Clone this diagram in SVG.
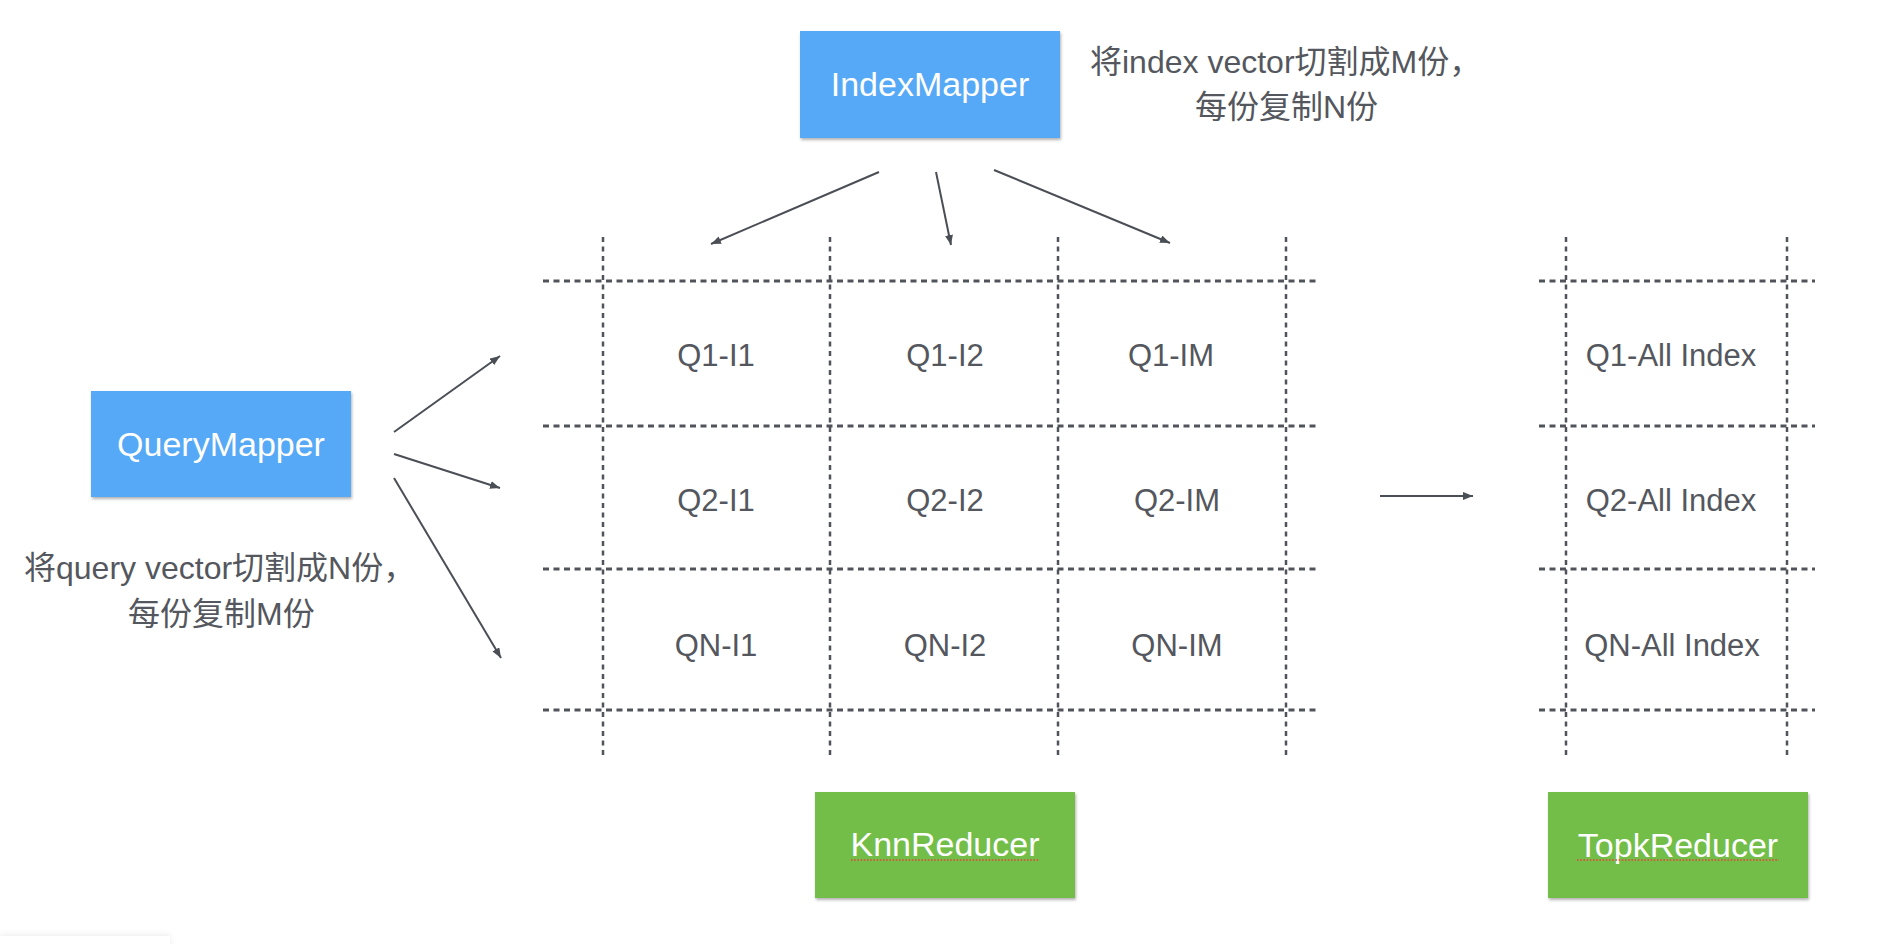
<svg xmlns="http://www.w3.org/2000/svg" width="1886" height="944" viewBox="0 0 1886 944">
<style>
.box-blue{fill:#57a9f6;}
.box-green{fill:#73be48;}
.box-text{font-family:"Liberation Sans","Noto Sans",sans-serif;font-size:34px;fill:#ffffff;text-anchor:middle;}
.cell{font-family:"Liberation Sans","Noto Sans",sans-serif;font-size:31px;fill:#54575d;text-anchor:middle;}
.note{font-family:"Liberation Sans","Noto Sans CJK SC",sans-serif;font-size:32px;fill:#54575d;}
.hgrid{stroke:#50545a;stroke-width:3;stroke-dasharray:6 4.5;fill:none;}
.vgrid{stroke:#50545a;stroke-width:2.5;stroke-dasharray:5 4.5;fill:none;}
.conn{stroke:#4a4e55;stroke-width:2;fill:none;marker-end:url(#arrow);}
.spell{stroke:#e8413a;stroke-width:1.6;stroke-dasharray:1.6 1.6;fill:none;}
</style>
<defs>
<filter id="shadow" x="-10%" y="-10%" width="125%" height="130%">
<feDropShadow dx="1" dy="2" stdDeviation="1.5" flood-color="#000" flood-opacity="0.3"/>
</filter>
<filter id="soft" x="-20%" y="-100%" width="140%" height="300%">
<feDropShadow dx="0" dy="-1" stdDeviation="3" flood-color="#000" flood-opacity="0.08"/>
</filter>
<marker id="arrow" viewBox="0 0 10 8" refX="10" refY="4" markerWidth="10" markerHeight="8" markerUnits="userSpaceOnUse" orient="auto">
<path d="M0,0 L10,4 L0,8 z" fill="#4a4e55"/>
</marker>
</defs>
<rect width="1886" height="944" fill="#ffffff"/>

<g id="grid-main">
<line class="hgrid" x1="543" y1="281" x2="1317" y2="281"/>
<line class="hgrid" x1="543" y1="426" x2="1317" y2="426"/>
<line class="hgrid" x1="543" y1="569" x2="1317" y2="569"/>
<line class="hgrid" x1="543" y1="710" x2="1317" y2="710"/>
<line class="vgrid" x1="603" y1="237" x2="603" y2="755"/>
<line class="vgrid" x1="830" y1="237" x2="830" y2="755"/>
<line class="vgrid" x1="1058" y1="237" x2="1058" y2="755"/>
<line class="vgrid" x1="1286" y1="237" x2="1286" y2="755"/>
</g>
<g id="grid-right">
<line class="hgrid" x1="1539" y1="281" x2="1815" y2="281"/>
<line class="hgrid" x1="1539" y1="426" x2="1815" y2="426"/>
<line class="hgrid" x1="1539" y1="569" x2="1815" y2="569"/>
<line class="hgrid" x1="1539" y1="710" x2="1815" y2="710"/>
<line class="vgrid" x1="1566" y1="237" x2="1566" y2="755"/>
<line class="vgrid" x1="1787" y1="237" x2="1787" y2="755"/>
</g>

<g id="cells">
<text class="cell" x="716" y="366">Q1-I1</text>
<text class="cell" x="945" y="366">Q1-I2</text>
<text class="cell" x="1171" y="366">Q1-IM</text>
<text class="cell" x="716" y="511">Q2-I1</text>
<text class="cell" x="945" y="511">Q2-I2</text>
<text class="cell" x="1177" y="511">Q2-IM</text>
<text class="cell" x="716" y="656">QN-I1</text>
<text class="cell" x="945" y="656">QN-I2</text>
<text class="cell" x="1177" y="656">QN-IM</text>
<text class="cell" x="1671" y="366">Q1-All Index</text>
<text class="cell" x="1671" y="511">Q2-All Index</text>
<text class="cell" x="1672" y="656">QN-All Index</text>
</g>

<g id="IndexMapper">
<rect class="box-blue" x="800" y="31" width="260" height="107" filter="url(#shadow)"/>
<text class="box-text" x="930" y="96">IndexMapper</text>
</g>
<g id="QueryMapper">
<rect class="box-blue" x="91" y="391" width="260" height="106" filter="url(#shadow)"/>
<text class="box-text" x="221" y="456">QueryMapper</text>
</g>
<g id="KnnReducer">
<rect class="box-green" x="815" y="792" width="260" height="106" filter="url(#shadow)"/>
<text class="box-text" x="945" y="856">KnnReducer</text>
<line class="spell" x1="851" y1="860" x2="1039" y2="860"/>
</g>
<g id="TopkReducer">
<rect class="box-green" x="1548" y="792" width="260" height="106" filter="url(#shadow)"/>
<text class="box-text" x="1678" y="857">TopkReducer</text>
<line class="spell" x1="1577" y1="860" x2="1779" y2="860"/>
</g>

<g id="notes">
<text class="note" x="1090" y="73">将index vector切割成M份，</text>
<text class="note" x="1195" y="118">每份复制N份</text>
<text class="note" x="24" y="579">将query vector切割成N份，</text>
<text class="note" x="128" y="625">每份复制M份</text>
</g>

<g id="connectors">
<line class="conn" x1="879" y1="172" x2="711" y2="244"/>
<line class="conn" x1="936" y1="172" x2="951" y2="245"/>
<line class="conn" x1="994" y1="170" x2="1170" y2="243"/>
<line class="conn" x1="394" y1="432" x2="500" y2="356"/>
<line class="conn" x1="394" y1="454" x2="500" y2="488"/>
<line class="conn" x1="394" y1="478" x2="501" y2="658"/>
<line class="conn" x1="1380" y1="496" x2="1473" y2="496"/>
</g>

<rect x="0" y="936" width="170" height="20" fill="#ffffff" filter="url(#soft)"/>
</svg>
